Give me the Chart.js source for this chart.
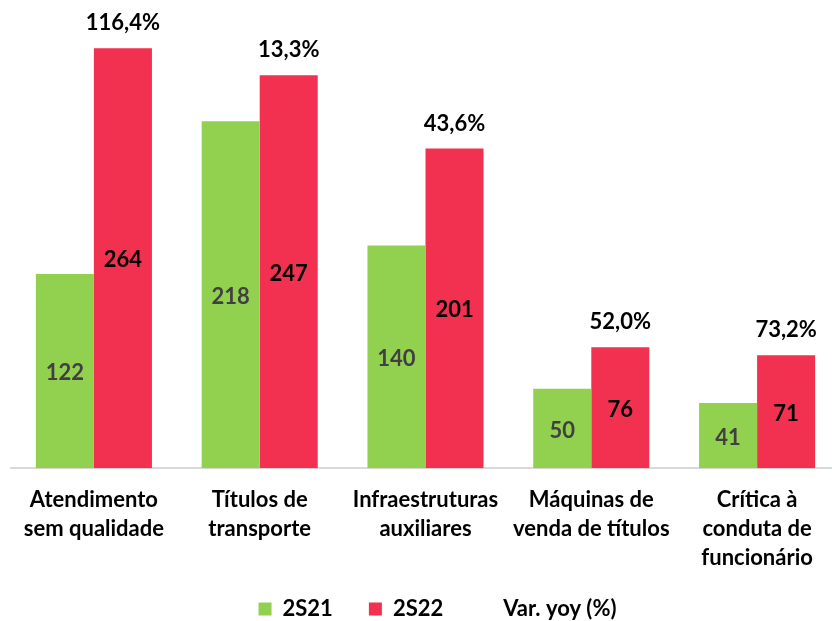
<!DOCTYPE html>
<html>
<head>
<meta charset="utf-8">
<script src="https://cdn.jsdelivr.net/npm/chart.js@4.4.1/dist/chart.umd.min.js"></script>
<style>
  html, body { margin: 0; padding: 0; background: #fff; overflow: hidden; }
  #wrap { width: 840px; height: 658px; }
</style>
</head>
<body>
<div id="wrap"><canvas id="chart"></canvas></div>
<script>
// dados do gráfico
const categorias = [
    ['Atendimento', 'sem qualidade'],
    ['Títulos de', 'transporte'],
    ['Infraestruturas', 'auxiliares'],
    ['Máquinas de', 'venda de títulos'],
    ['Crítica à', 'conduta de', 'funcionário']
];
const valores2S21 = [122, 218, 140, 50, 41];
const valores2S22 = [264, 247, 201, 76, 71];
const varYoy = ['116,4%', '13,3%', '43,6%', '52,0%', '73,2%'];
const varYoyNum = [116.4, 13.3, 43.6, 52.0, 73.2];

const VERDE = '#92D050';
const VERMELHO = '#F2304F';
const FONTE = "Lato, 'Open Sans', sans-serif";
const TAM = 22;

// rótulos dentro das barras + variação acima das barras vermelhas
const rotulosPlugin = {
    id: 'rotulos',
    afterLayout(chart) {
        // sobe a legenda para ficar junto dos rótulos do eixo
        const lg = chart.legend;
        if (lg) {
            lg.top -= 28; lg.bottom -= 28;
            lg.left += 12; lg.right += 12;
        }
    },
    afterDatasetsDraw(chart) {
        const ctx = chart.ctx;
        ctx.save();
        ctx.font = `bold ${TAM}px ${FONTE}`;
        ctx.textAlign = 'center';
        ctx.textBaseline = 'middle';

        [0, 1].forEach(di => {
            const meta = chart.getDatasetMeta(di);
            meta.data.forEach((bar, i) => {
                const v = chart.data.datasets[di].data[i];
                ctx.fillStyle = di === 0 ? '#404040' : '#000000';
                ctx.fillText(v, bar.x, (bar.y + bar.base) / 2 + 2);
            });
        });

        const metaRed = chart.getDatasetMeta(1);
        metaRed.data.forEach((bar, i) => {
            ctx.fillStyle = '#000000';
            ctx.fillText(varYoy[i], bar.x, bar.y - 25);
        });
        ctx.restore();
    }
};

const ctx = document.getElementById('chart').getContext('2d');
new Chart(ctx, {
    type: 'bar',
    data: {
        labels: categorias,
        datasets: [
            { label: '2S21', data: valores2S21, backgroundColor: VERDE, categoryPercentage: 0.7, barPercentage: 1.0 },
            { label: '2S22', data: valores2S22, backgroundColor: VERMELHO, categoryPercentage: 0.7, barPercentage: 1.0 },
            {
                type: 'line', label: 'Var. yoy (%)', data: varYoyNum, yAxisID: 'yPct',
                showLine: false, pointRadius: 0, pointHoverRadius: 0,
                backgroundColor: 'rgba(0,0,0,0)', borderColor: 'rgba(0,0,0,0)', borderWidth: 0
            }
        ]
    },
    options: {
        responsive: true,
        maintainAspectRatio: false,
        animation: false,
        layout: { padding: { top: 10, left: 11, right: 0, bottom: 0 } },
        plugins: {
            legend: {
                position: 'bottom',
                labels: {
                    boxWidth: 13, boxHeight: 13, padding: 36,
                    color: '#000', font: { family: FONTE, size: TAM, weight: 'bold' }
                }
            },
            tooltip: { enabled: false }
        },
        scales: {
            x: {
                grid: { display: false, drawTicks: false },
                border: { display: true, color: '#D9D9D9', width: 2 },
                ticks: {
                    color: '#000', padding: 17, maxRotation: 0, autoSkip: false,
                    font: { family: FONTE, size: TAM, weight: 'bold', lineHeight: 1.33 }
                }
            },
            y: { display: false, min: 0, max: 288 },
            yPct: { display: false, min: 0, max: 200 }
        }
    },
    plugins: [rotulosPlugin]
});
</script>
</body>
</html>
